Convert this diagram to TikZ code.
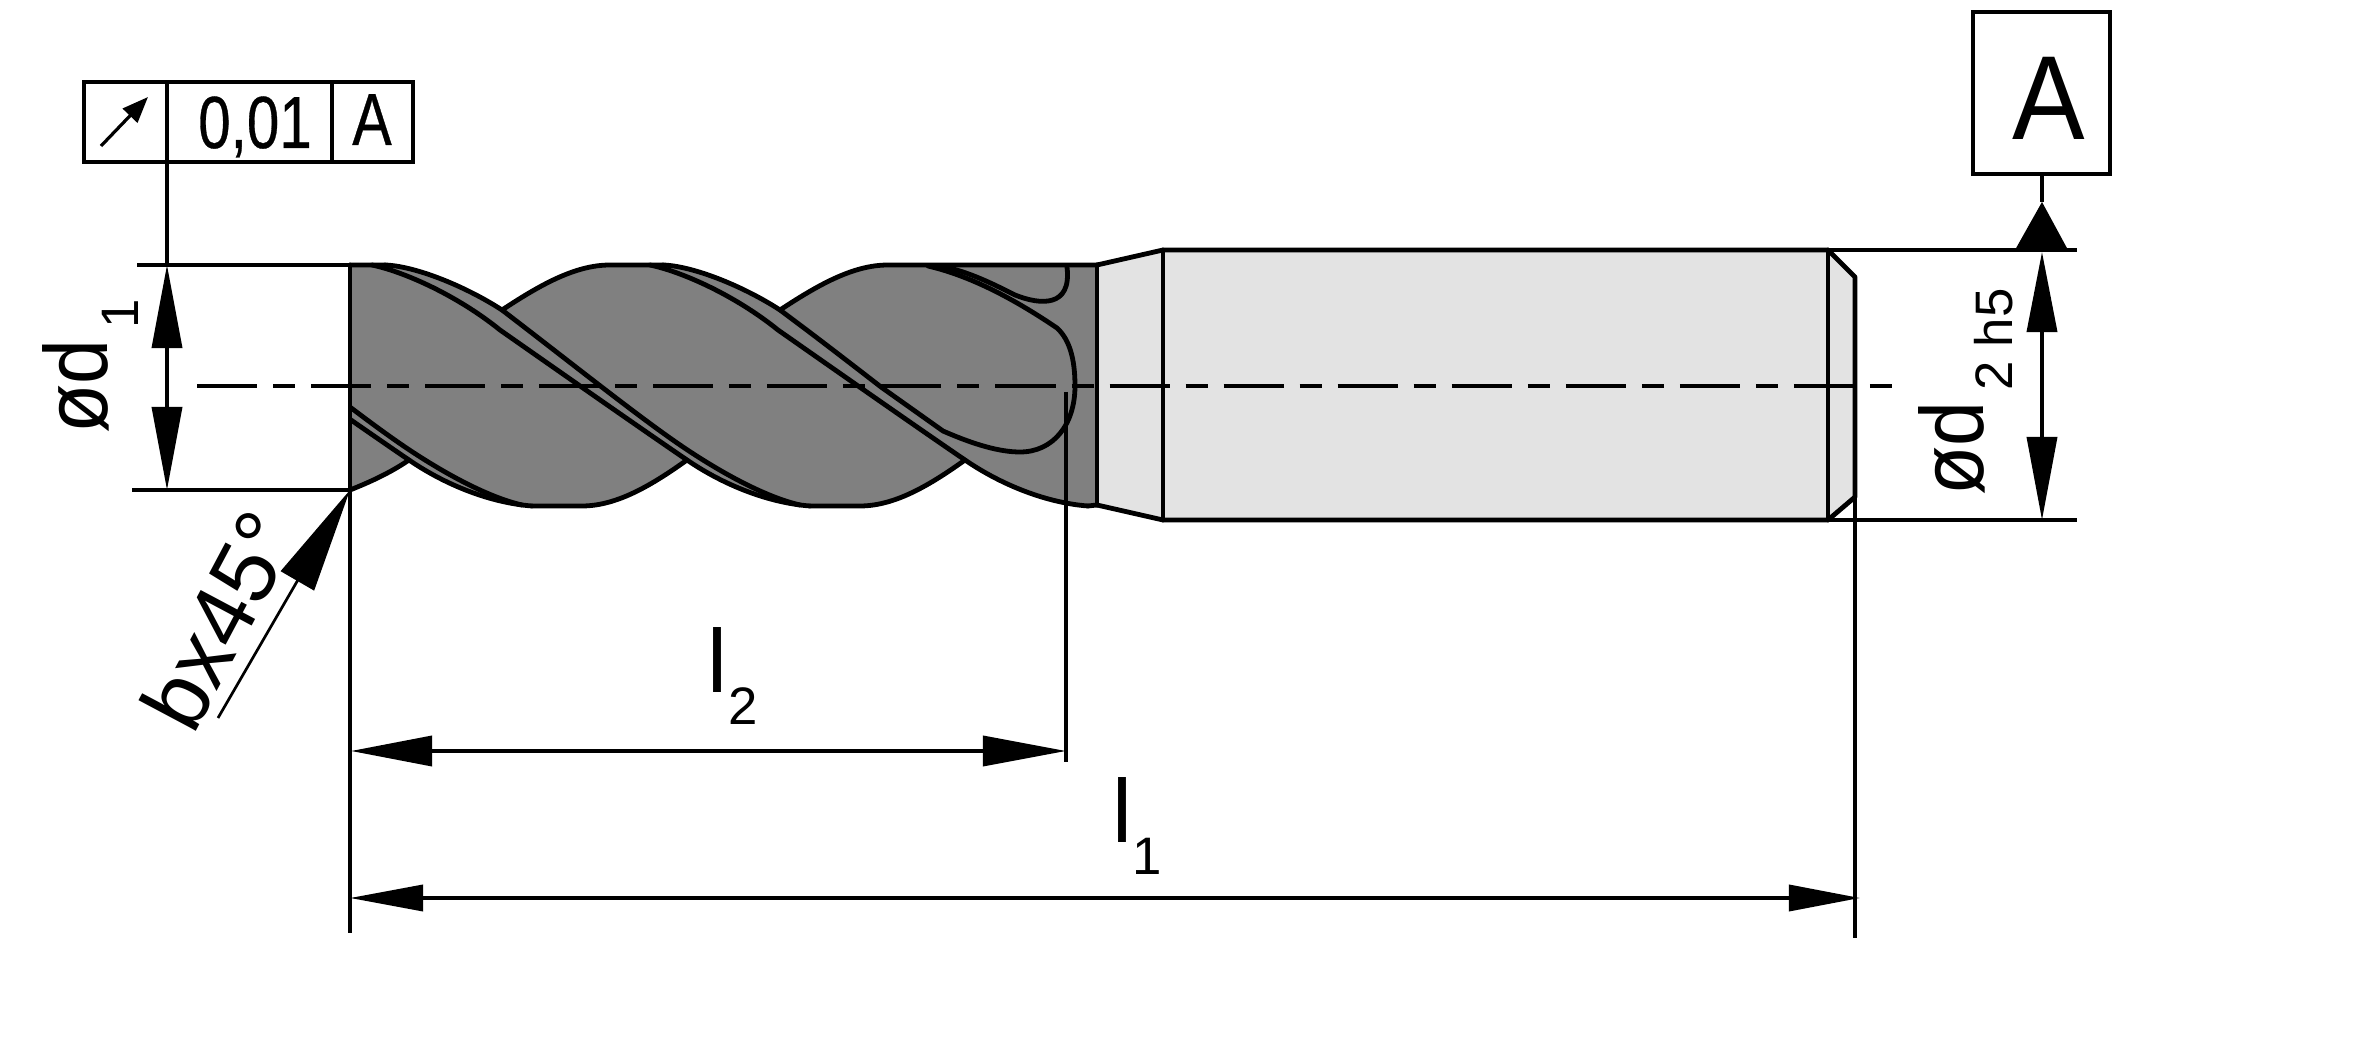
\documentclass[tikz,border=0pt]{standalone}
\usepackage{fontspec}
\setmainfont{Liberation Sans}
\newfontfamily\tolfont[FakeBold=0.5]{Liberation Sans}
\usetikzlibrary{arrows.meta}
\definecolor{bodygray}{HTML}{808080}
\definecolor{shankgray}{HTML}{E3E3E3}
\tikzset{
  edge/.style={line width=0.048cm,line join=round,line cap=round},
  thinline/.style={line width=0.036cm},
  centerl/.style={line width=0.033cm,dash pattern=on 0.60cm off 0.16cm on 0.22cm off 0.16cm},
  txt/.style={inner sep=0pt,outer sep=0pt,anchor=base west},
  frame/.style={draw,line width=0.036cm,inner sep=0pt,outer sep=0pt,anchor=north west},
  ltwo/.style={{Triangle[length=0.81cm,width=0.30cm]}-{Triangle[length=0.83cm,width=0.30cm]}},
  lone/.style={{Triangle[length=0.73cm,width=0.26cm]}-{Triangle[length=0.71cm,width=0.26cm]}},
}
\newcommand{\fm}{\fontsize{25.5pt}{26pt}\selectfont}
\newcommand{\fs}{\fontsize{15pt}{16pt}\selectfont}
\newcommand{\upperhelix}{(385,265) .. controls (415,266) and (465,286) .. (502,310)
  .. controls (570,362) and (640,418) .. (683,447)
  .. controls (720,472) and (765,497) .. (800,505)}
\newcommand{\lowerhelix}{(372,265) .. controls (405,272) and (458,296) .. (500,330)
  .. controls (540,358) and (640,428) .. (687,460)
  .. controls (725,486) and (770,503) .. (810,506)}
\begin{document}
\begin{tikzpicture}[x=0.01cm,y=-0.01cm]
\useasboundingbox (0,0) rectangle (2362,1049);
% ---- key points
\coordinate (tl) at (350,265);
\coordinate (bl) at (350,490);
\coordinate (nt) at (1097,265);
\coordinate (nb) at (1097,505);
\coordinate (st) at (1163,250);
\coordinate (sb) at (1163,520);
\coordinate (ct) at (1828,250);
\coordinate (cb) at (1828,520);
\coordinate (et) at (1855,277);
\coordinate (eb) at (1855,497);
% ---- light shank
\fill[shankgray] (nt) -- (st) -- (ct) -- (et) -- (eb) -- (cb) -- (sb) -- (nb) -- cycle;
% ---- dark flutes
\path[fill=bodygray] (tl) -- (385,265) .. controls (415,266) and (465,286) .. (502,310)
  .. controls (540,285) and (575,265) .. (610,265) -- (663,265)
  .. controls (693,266) and (743,286) .. (780,310)
  .. controls (818,285) and (853,265) .. (888,265) -- (nt) -- (nb) -- (1088,506)
  .. controls (1048,503) and (1003,486) .. (965,460)
  .. controls (930,485) and (895,506) .. (860,506) -- (810,506)
  .. controls (770,503) and (725,486) .. (687,460)
  .. controls (652,485) and (617,506) .. (582,506) -- (532,506)
  .. controls (492,503) and (447,486) .. (409,460)
  .. controls (390,473) and (370,482) .. (bl) -- cycle;
% ---- silhouette of the flutes
\draw[edge] (tl) -- (385,265) (502,310) .. controls (540,285) and (575,265) .. (610,265) -- (663,265)
  (780,310) .. controls (818,285) and (853,265) .. (888,265) -- (nt)
  (nb) -- (1088,506) (965,460) .. controls (930,485) and (895,506) .. (860,506) -- (810,506)
  (687,460) .. controls (652,485) and (617,506) .. (582,506) -- (532,506)
  (409,460) .. controls (390,473) and (370,482) .. (bl);
% ---- helix bands
\draw[edge] \upperhelix;
\draw[edge] \lowerhelix;
\begin{scope}
  \clip (350,250) rectangle (1097,520);
  \begin{scope}[shift={(-278,0)}]
    \draw[edge] \upperhelix;
    \draw[edge] \lowerhelix;
  \end{scope}
\end{scope}
\begin{scope}[shift={(278,0)}]
  \draw[edge] \lowerhelix;
\end{scope}
\draw[edge] (663,265) .. controls (693,266) and (743,286) .. (780,310)
  .. controls (815,336) and (850,363) .. (881,387) -- (943,431)
  .. controls (975,445) and (1000,452) .. (1020,452)
  .. controls (1053,452) and (1075,425) .. (1075,386)
  .. controls (1075,360) and (1070,340) .. (1057,328)
  .. controls (1020,303) and (975,277) .. (928,266);
\draw[edge] (941,266) .. controls (970,272) and (995,285) .. (1015,295)
  .. controls (1040,305) and (1072,308) .. (1067,267);
% ---- shank outline
\draw[edge] (nt) -- (st) -- (ct) -- (et) -- (eb) -- (cb) -- (sb) -- (nb);
\draw[edge] (tl) -- (bl);
\draw[edge] (nt) -- (nb);
\draw[edge] (st) -- (sb);
\draw[edge] (ct) -- (cb);
% ---- centre line
\coordinate (cl1) at (197,386);
\coordinate (cl2) at (1892,386);
\draw[centerl] (cl1) -- (cl2);
% ---- extension lines
\coordinate (e1) at (137,265);
\coordinate (e2) at (132,490);
\coordinate (e3) at (2077,250);
\coordinate (e4) at (2077,520);
\coordinate (e5) at (350,933);
\coordinate (e6) at (1066,392);
\coordinate (e7) at (1066,762);
\coordinate (e8) at (1855,938);
\draw[thinline] (e1) -- (tl);
\draw[thinline] (e2) -- (bl);
\draw[thinline] (ct) -- (e3);
\draw[thinline] (cb) -- (e4);
\draw[thinline] (bl) -- (e5);
\draw[thinline] (e6) -- (e7);
\draw[thinline] (eb) -- (e8);
% ---- dimension arrows
\coordinate (d1a) at (167,265);
\coordinate (d1b) at (167,490);
\draw[thinline,{Triangle[length=0.83cm,width=0.30cm]}-{Triangle[length=0.83cm,width=0.30cm]}] (d1a) -- (d1b);
\coordinate (d2a) at (2042,252);
\coordinate (d2b) at (2042,520);
\draw[thinline,{Triangle[length=0.80cm,width=0.30cm]}-{Triangle[length=0.83cm,width=0.30cm]}] (d2a) -- (d2b);
\coordinate (l2a) at (351,751);
\coordinate (l2b) at (1066,751);
\draw[thinline,ltwo] (l2a) -- (l2b);
\coordinate (l1a) at (350,898);
\coordinate (l1b) at (1860,898);
\draw[thinline,lone] (l1a) -- (l1b);
% ---- chamfer leader
\coordinate (cham) at (218,718);
\draw[line width=0.027cm,-{Triangle[length=1.05cm,width=0.38cm]}] (cham) -- (bl);
% ---- tolerance frame
\node[frame,minimum width=0.83cm,minimum height=0.80cm] (tol1) at (84,82) {};
\node[frame,minimum width=1.65cm,minimum height=0.80cm] (tol2) at (167,82) {};
\node[frame,minimum width=0.81cm,minimum height=0.80cm] (tol3) at (332,82) {};
\coordinate (ta) at (101,146);
\coordinate (tb) at (148,97);
\draw[line width=0.032cm,-{Triangle[length=0.26cm,width=0.20cm]}] (ta) -- (tb);
\node[inner sep=0pt,anchor=base] (tolv) at (255,148) {\tolfont\fontsize{21pt}{22pt}\selectfont\scalebox{.79}[1]{0,01}};
\node[inner sep=0pt,anchor=base] (tola) at (372,145) {\tolfont\fontsize{21pt}{22pt}\selectfont\scalebox{.8}[1]{A}};
\draw[thinline] (tol1.south east) -- (d1a);
% ---- datum
\node[frame,minimum width=1.37cm,minimum height=1.62cm] (datum) at (1973,12) {};
\node[inner sep=0pt,anchor=base] (datumA) at (2049,140) {\fontsize{34pt}{35pt}\selectfont\scalebox{.91}[1]{A}};
\coordinate (dtip) at (2042,202);
\coordinate (dl) at (2015,250);
\coordinate (dr) at (2068,250);
\fill (dl) -- (dtip) -- (dr) -- cycle;
\draw[thinline] (2042,174) -- (dtip);
% ---- labels
\node[txt,rotate=90] (d1m) at (107,434) {\fm\scalebox{.9}[1]{ød}};
\node[txt,rotate=90] (d1s) at (138,329) {\fs 1};
\node[txt,rotate=90] (d2m) at (1983,496) {\fm\scalebox{.9}[1]{ød}};
\node[txt,rotate=90] (d2s) at (2012,391) {\fs 2 h5};
\node[txt] (l2m) at (707,693) {\fm l};
\node[txt] (l2s) at (728,725) {\fs 2};
\node[txt] (l1m) at (1112,843) {\fm l};
\node[txt] (l1s) at (1132,875) {\fs 1};
\node[txt,rotate=62] (bx) at (193,737) {\fontsize{25.5pt}{27pt}\selectfont bx45°};
\end{tikzpicture}
\end{document}
